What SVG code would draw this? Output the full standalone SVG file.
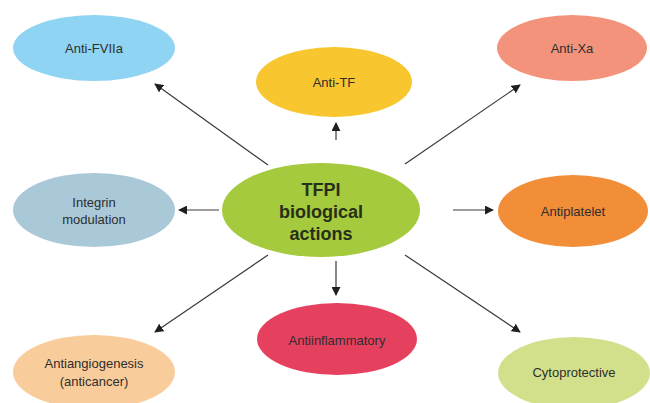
<svg xmlns="http://www.w3.org/2000/svg" width="650" height="403" viewBox="0 0 650 403">
  <defs>
    <marker id="arrow" viewBox="0 0 10 10" refX="9" refY="5" markerWidth="9" markerHeight="9" markerUnits="userSpaceOnUse" orient="auto">
      <path d="M0,0 L10,5 L0,10 z" fill="#1f1f1f"/>
    </marker>
    <style>
      .lbl { font-family: "Liberation Sans", Arial, sans-serif; font-size: 13px; fill: #2e2e2e; text-anchor: middle; dominant-baseline: central; }
      .hub { font-family: "Liberation Sans", Arial, sans-serif; font-size: 18px; font-weight: bold; fill: #263018; text-anchor: middle; dominant-baseline: central; }
      .conn { stroke: #3a3a3a; stroke-width: 1.2; fill: none; marker-end: url(#arrow); }
    </style>
  </defs>
  <rect width="650" height="403" fill="#ffffff"/>

  <g id="connectors">
    <line class="conn" x1="268" y1="165" x2="155" y2="84"/>
    <line class="conn" x1="336" y1="140" x2="336" y2="123"/>
    <line class="conn" x1="405" y1="164" x2="520" y2="85"/>
    <line class="conn" x1="219" y1="210" x2="179" y2="210"/>
    <line class="conn" x1="453" y1="210" x2="493" y2="210"/>
    <line class="conn" x1="268" y1="255" x2="155" y2="332"/>
    <line class="conn" x1="336" y1="261" x2="336" y2="295"/>
    <line class="conn" x1="405" y1="255" x2="520" y2="332"/>
  </g>

  <g id="anti-fviia">
    <ellipse cx="94" cy="48" rx="81" ry="33" fill="#8fd4f2"/>
    <text class="lbl" x="94" y="48">Anti-FVIIa</text>
  </g>
  <g id="anti-tf">
    <ellipse cx="334" cy="82" rx="78" ry="35" fill="#f8c62e"/>
    <text class="lbl" x="334" y="82">Anti-TF</text>
  </g>
  <g id="anti-xa">
    <ellipse cx="572" cy="48" rx="75" ry="33" fill="#f4937b"/>
    <text class="lbl" x="572" y="48">Anti-Xa</text>
  </g>
  <g id="integrin-modulation">
    <ellipse cx="94" cy="210" rx="81" ry="37" fill="#a9c9d9"/>
    <text class="lbl" x="94" y="202">Integrin</text>
    <text class="lbl" x="94" y="219">modulation</text>
  </g>
  <g id="tfpi">
    <ellipse cx="321" cy="210" rx="99" ry="47" fill="#a6ca3e"/>
    <text class="hub" x="321" y="190">TFPI</text>
    <text class="hub" x="321" y="212">biological</text>
    <text class="hub" x="321" y="234">actions</text>
  </g>
  <g id="antiplatelet">
    <ellipse cx="573" cy="211" rx="75" ry="36" fill="#f28d38"/>
    <text class="lbl" x="573" y="211">Antiplatelet</text>
  </g>
  <g id="antiangiogenesis">
    <ellipse cx="94" cy="372" rx="81" ry="37" fill="#f9cd9b"/>
    <text class="lbl" x="94" y="363">Antiangiogenesis</text>
    <text class="lbl" x="94" y="381">(anticancer)</text>
  </g>
  <g id="antiinflammatory">
    <ellipse cx="337" cy="339" rx="80" ry="36" fill="#e6405f"/>
    <text class="lbl" x="337" y="340">Antiinflammatory</text>
  </g>
  <g id="cytoprotective">
    <ellipse cx="574" cy="373" rx="76" ry="36" fill="#d3e08b"/>
    <text class="lbl" x="574" y="372">Cytoprotective</text>
  </g>
</svg>
